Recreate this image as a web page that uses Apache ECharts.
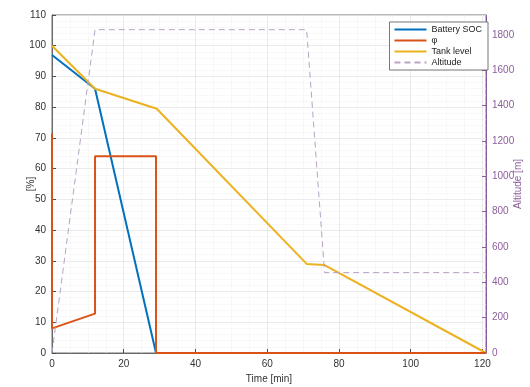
<!DOCTYPE html>
<html>
<head>
<meta charset="utf-8">
<script src="https://cdn.jsdelivr.net/npm/echarts@6/dist/echarts.min.js"></script>
<style>
  body { margin: 0; padding: 0; background: #fff; }
  #chart { width: 530px; height: 387px; }
</style>
</head>
<body>
<div id="chart"></div>
<script>
// values
const socTime = [0, 12, 29, 121];
const socVal = [97, 86, 0, 0];

const phiTime = [0, 0, 12, 12, 29, 29, 121];
const phiVal = [71.5, 8, 12.8, 64, 64, 0, 0];

const tankTime = [0, 12, 29.2, 71, 76, 121];
const tankVal = [100, 86, 79.5, 29, 28.6, 0];

const altTime = [0, 12, 71, 76, 121];
const altVal = [0, 1830, 1830, 455, 455];

const zip = (xs, ys) => xs.map((x, i) => [x, ys[i]]);

const font = 'Helvetica, Arial, "Liberation Sans", sans-serif';
const purple = '#8b5d9c';

const chart = echarts.init(document.getElementById('chart'));
chart.setOption({
  animation: false,
  grid: {
    left: 52, right: 44, top: 15, bottom: 34,
    outerBoundsMode: 'none',
    show: true, borderColor: '#4d4d4d', borderWidth: 0.8
  },
  legend: {
    right: 42, top: 22,
    orient: 'vertical',
    backgroundColor: '#fff',
    borderColor: '#555', borderWidth: 0.8,
    padding: [3, 6, 3, 4],
    itemGap: 2,
    itemWidth: 32, itemHeight: 8,
    itemStyle: { opacity: 0 },
    textStyle: { fontSize: 9, fontFamily: font, color: '#222' },
    data: ['Battery SOC', 'φ', 'Tank level', 'Altitude']
  },
  xAxis: {
    type: 'value', min: 0, max: 121, interval: 20,
    name: 'Time [min]', nameLocation: 'middle', nameGap: 18,
    nameTextStyle: { fontSize: 10, fontFamily: font, color: '#333' },
    axisLine: { lineStyle: { color: '#4d4d4d', width: 0.8 } },
    axisTick: { inside: true, length: 4, lineStyle: { color: '#4d4d4d' } },
    axisLabel: { fontSize: 10, fontFamily: font, color: '#333', margin: 6, showMaxLabel: false },
    splitLine: { show: true, lineStyle: { color: '#e4e4e4', width: 0.8 } },
    minorTick: { show: false, splitNumber: 4 },
    minorSplitLine: { show: true, lineStyle: { color: '#f3f3f3', width: 0.6 } }
  },
  yAxis: [{
    type: 'value', min: 0, max: 110, interval: 10,
    name: '[%]', nameLocation: 'middle', nameGap: 16, nameRotate: 90,
    nameMoveOverlap: false,
    nameTextStyle: { fontSize: 10, fontFamily: font, color: '#333' },
    axisLine: { show: true, lineStyle: { color: '#4d4d4d', width: 0.8 } },
    axisTick: { show: true, inside: true, length: 4, lineStyle: { color: '#4d4d4d' } },
    axisLabel: { fontSize: 10, fontFamily: font, color: '#333', margin: 6 },
    splitLine: { show: true, lineStyle: { color: '#e4e4e4', width: 0.8 } },
    minorTick: { show: false, splitNumber: 5 },
    minorSplitLine: { show: true, lineStyle: { color: '#f3f3f3', width: 0.6 } }
  }, {
    type: 'value', min: 0, max: 1913, interval: 200,
    position: 'right',
    name: 'Altitude [m]', nameLocation: 'middle', nameGap: 27, nameRotate: 90,
    nameMoveOverlap: false,
    nameTextStyle: { fontSize: 10, fontFamily: font, color: purple },
    axisLine: { show: true, lineStyle: { color: purple, width: 1 } },
    axisTick: { show: true, inside: true, length: 4, lineStyle: { color: purple } },
    axisLabel: { fontSize: 10, fontFamily: font, color: purple, margin: 6, showMaxLabel: false, formatter: v => String(v) },
    splitLine: { show: false }
  }],
  series: [{
    name: 'Battery SOC', type: 'line', symbol: 'none',
    data: zip(socTime, socVal),
    lineStyle: { color: '#0072BD', width: 2 }, itemStyle: { color: '#0072BD' }
  }, {
    name: 'Tank level', type: 'line', symbol: 'none',
    data: zip(tankTime, tankVal),
    lineStyle: { color: '#EDB120', width: 2 }, itemStyle: { color: '#EDB120' }
  }, {
    name: 'φ', type: 'line', symbol: 'none',
    data: zip(phiTime, phiVal),
    lineStyle: { color: '#D95319', width: 2 }, itemStyle: { color: '#D95319' }
  }, {
    name: 'Altitude', type: 'line', symbol: 'none', yAxisIndex: 1,
    data: zip(altTime, altVal),
    lineStyle: { color: '#b7a3c4', width: 1, type: [6, 4] }, itemStyle: { color: '#b7a3c4' }
  }]
});
</script>
</body>
</html>
